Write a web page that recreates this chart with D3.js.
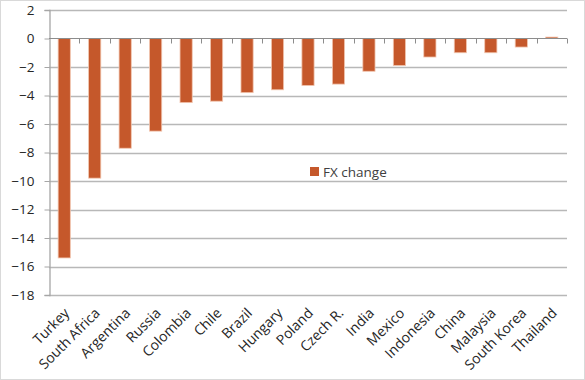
<!DOCTYPE html>
<html><head><meta charset="utf-8">
<script src="https://cdn.jsdelivr.net/npm/d3@7/dist/d3.min.js"></script>
<style>body{margin:0;background:#fff}svg{display:block}</style>
</head><body><div id="chart"></div>
<script>
const categories = ["Turkey","South Africa","Argentina","Russia","Colombia","Chile","Brazil","Hungary","Poland","Czech R.","India","Mexico","Indonesia","China","Malaysia","South Korea","Thailand"];
const fxChange = [-15.4,-9.8,-7.7,-6.5,-4.5,-4.4,-3.8,-3.6,-3.3,-3.2,-2.3,-1.9,-1.3,-1.0,-1.0,-0.6,0.1];
const yTicks = [2,0,-2,-4,-6,-8,-10,-12,-14,-16,-18];
const seriesName = "FX change";

const W = 585, H = 380;
const m = {left:49, right:18, top:10, bottom:85};
const svg = d3.select("#chart").append("svg").attr("width",W).attr("height",H);
svg.append("rect").attr("x",0.5).attr("y",0.5).attr("width",W-1).attr("height",H-1)
  .attr("fill","#fff").attr("stroke","#d9d9d9");

const x = d3.scaleBand().domain(categories).range([m.left, W-m.right]).paddingInner(0.6).paddingOuter(0.3);
const y = d3.scaleLinear().domain([-18,2]).range([H-m.bottom, m.top]);

// gridlines
svg.append("g").selectAll("line").data(yTicks.filter(d=>d!==0)).join("line")
  .attr("x1",m.left).attr("x2",W-m.right)
  .attr("y1",d=>Math.round(y(d))+0.5).attr("y2",d=>Math.round(y(d))+0.5)
  .attr("stroke","#b8b8b8").attr("stroke-width",1.3);

// y axis
const yAxis = d3.axisLeft(y).tickValues(yTicks).tickSize(5).tickPadding(10).tickFormat(d3.format("d"));
const gy = svg.append("g").attr("transform",`translate(${m.left+0.5},0)`).call(yAxis);
gy.select(".domain").attr("stroke","#a6a6a6").attr("stroke-width",1.3);
gy.selectAll(".tick line").attr("stroke","#a6a6a6");
gy.selectAll("text").attr("fill","#262626").style("font-family","'Open Sans', sans-serif").style("font-size","13.5px");

// bars
svg.append("g").selectAll("rect").data(fxChange).join("rect")
  .attr("x",(d,i)=>x(categories[i]))
  .attr("width",x.bandwidth())
  .attr("y",d=>y(Math.max(0,d)))
  .attr("height",d=>Math.abs(y(d)-y(0)))
  .attr("fill","#C5582B")
  .attr("stroke","#f2c6b0").attr("stroke-width",0.8);

// zero axis with ticks between categories
const y0 = Math.round(y(0))+0.5;
svg.append("line").attr("x1",m.left).attr("x2",W-m.right).attr("y1",y0).attr("y2",y0)
  .attr("stroke","#8c8c8c").attr("stroke-width",1);
const bounds = d3.range(categories.length+1).map(i=> m.left + i*(W-m.left-m.right)/categories.length);
svg.append("g").selectAll("line").data(bounds.slice(1)).join("line")
  .attr("x1",d=>Math.round(d)+0.5).attr("x2",d=>Math.round(d)+0.5)
  .attr("y1",y0).attr("y2",y0+5).attr("stroke","#8c8c8c");

// x labels
svg.append("g").selectAll("text").data(categories).join("text")
  .attr("transform",d=>`translate(${x(d)+x.bandwidth()/2+6},${H-m.bottom+19}) rotate(-45)`)
  .attr("text-anchor","end")
  .attr("fill","#262626")
  .style("font-family","'Open Sans', sans-serif").style("font-size","14px")
  .text(d=>d);

// legend
const lg = svg.append("g").attr("transform","translate(310,167)");
lg.append("rect").attr("width",9).attr("height",9).attr("fill","#C5582B");
lg.append("text").attr("x",13).attr("y",9.5).attr("fill","#404040")
  .style("font-family","'Open Sans', sans-serif").style("font-size","13.5px").text(seriesName);
</script></body></html>
